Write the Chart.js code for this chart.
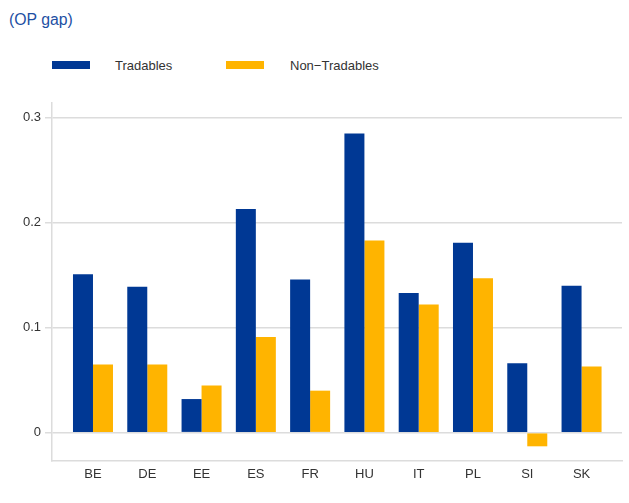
<!DOCTYPE html>
<html>
<head>
<meta charset="utf-8">
<script src="https://cdn.jsdelivr.net/npm/chart.js@4/dist/chart.umd.min.js"></script>
<style>
  html, body { margin: 0; padding: 0; background: #fff; }
  #wrap { position: relative; width: 629px; height: 503px; font-family: 'Liberation Sans', Arial, sans-serif; }
  #title { position: absolute; left: 9px; top: 10px; font-size: 15.8px; color: #1d4fa3; line-height: 20px; }
  .key { position: absolute; top: 61px; width: 38px; height: 8px; }
  .lbl { position: absolute; top: 58px; font-size: 13px; line-height: 16px; color: #333; }
  canvas { position: absolute; left: 0; top: 0; }
</style>
</head>
<body>
<div id="wrap">
  <div id="title">(OP gap)</div>
  <div class="key" style="left:52px;background:#003894"></div>
  <div class="lbl" style="left:115px">Tradables</div>
  <div class="key" style="left:226px;background:#ffb400"></div>
  <div class="lbl" style="left:290px">Non−Tradables</div>
  <canvas id="chart" width="629" height="503"></canvas>
</div>
<script>
'use strict';

// ── Data ──────────────────────────────────────────────────────────────────────

const countries    = ['BE', 'DE', 'EE', 'ES', 'FR', 'HU', 'IT', 'PL', 'SI', 'SK'];
const tradables    = [0.151, 0.139, 0.032, 0.213, 0.146, 0.285, 0.133, 0.181, 0.066, 0.140];
const nonTradables = [0.065, 0.065, 0.045, 0.091, 0.040, 0.183, 0.122, 0.147, -0.013, 0.063];
const yTicks       = [0, 0.1, 0.2, 0.3];

// ── Chart ─────────────────────────────────────────────────────────────────────

const GRID = '#dcdcdc';
Chart.defaults.font.family = "'Liberation Sans', Arial, sans-serif";
Chart.defaults.font.size = 13;
Chart.defaults.color = '#333';

const toPoints = vals => vals.map((v, i) => ({ x: i, y: v }));

new Chart(document.getElementById('chart'), {
  type: 'bar',
  data: {
    datasets: [
      { label: 'Tradables', data: toPoints(tradables), backgroundColor: '#003894' },
      { label: 'Non-Tradables', data: toPoints(nonTradables), backgroundColor: '#ffb400' },
    ],
  },
  options: {
    responsive: false,
    animation: false,
    layout: { padding: { top: 103, right: 7, left: 0, bottom: 0 } },
    datasets: { bar: { categoryPercentage: 0.737, barPercentage: 1.0, borderWidth: 0 } },
    plugins: { legend: { display: false }, tooltip: { enabled: false } },
    scales: {
      x: {
        type: 'linear',
        offset: false,
        min: -0.755,
        max: 9.745,
        grid: { display: false, drawTicks: false },
        border: { display: true, color: GRID, width: 1.5 },
        afterBuildTicks: s => { s.ticks = countries.map((_, i) => ({ value: i })); },
        afterFit: s => { s.height = 42; },
        ticks: {
          padding: 6,
          autoSkip: false,
          maxRotation: 0,
          callback: v => countries[v] ?? '',
        },
      },
      y: {
        min: -0.027,
        max: 0.314,
        grid: { color: GRID, lineWidth: 1.5, tickLength: 7, tickColor: GRID },
        border: { display: true, color: GRID, width: 1.5 },
        afterBuildTicks: s => { s.ticks = yTicks.map(v => ({ value: v })); },
        afterFit: s => { s.width = 52; },
        ticks: {
          padding: 4,
          callback: v => String(+v.toFixed(1)),
        },
      },
    },
  },
});
</script>
</body>
</html>
